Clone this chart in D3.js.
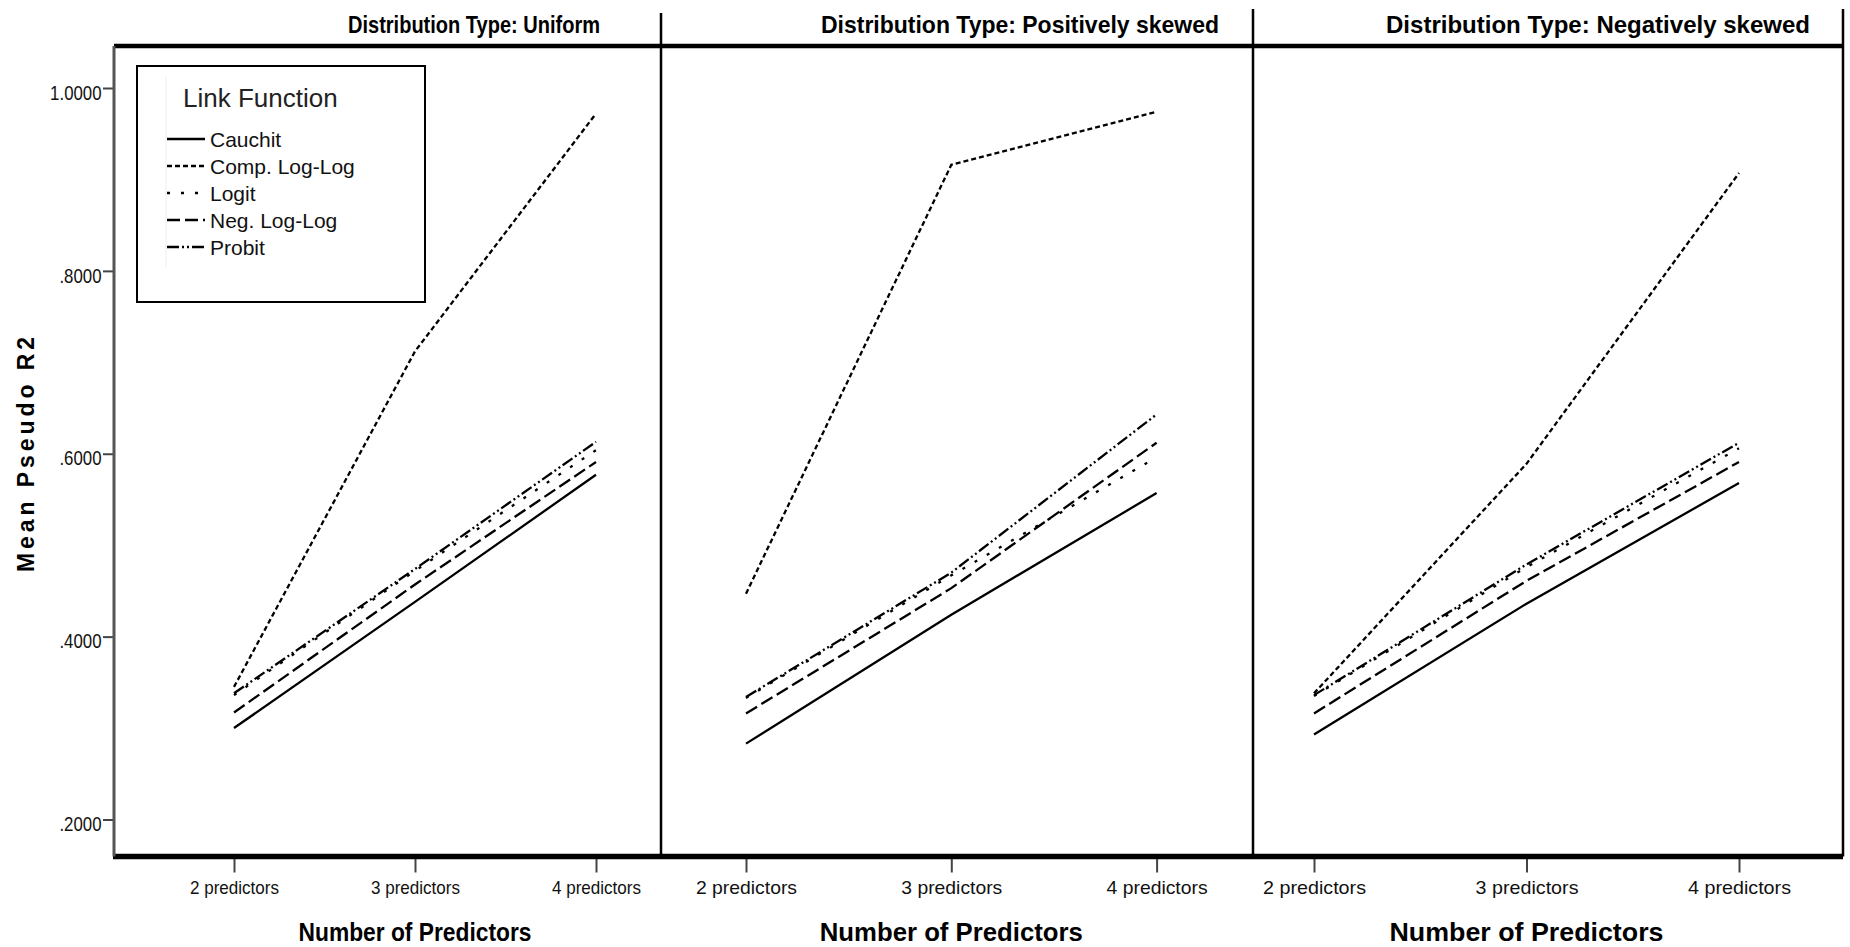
<!DOCTYPE html>
<html><head><meta charset="utf-8">
<script src="https://cdn.jsdelivr.net/npm/d3@7"></script>
<style>body{margin:0;background:#fff}svg{display:block}</style>
</head><body>
<svg id="chart" width="1850" height="947"></svg>
<script>
// ---- data ----
const categories = ["2 predictors", "3 predictors", "4 predictors"];
const distributions = ["Uniform", "Positively skewed", "Negatively skewed"];
const linkFunctions = ["Cauchit", "Comp. Log-Log", "Logit", "Neg. Log-Log", "Probit"];
// one row per distribution, values for 2/3/4 predictors
const cauchit    = [[0.300, 0.438, 0.577], [0.283, 0.424, 0.557], [0.293, 0.436, 0.568]];
const compLogLog = [[0.345, 0.712, 0.972], [0.447, 0.916, 0.974], [0.338, 0.589, 0.907]];
const logit      = [[0.336, 0.472, 0.604], [0.333, 0.467, 0.596], [0.335, 0.476, 0.606]];
const negLogLog  = [[0.317, 0.457, 0.591], [0.316, 0.453, 0.612], [0.316, 0.461, 0.591]];
const probit     = [[0.338, 0.474, 0.613], [0.334, 0.470, 0.643], [0.336, 0.479, 0.612]];
const yTicks = [0.2, 0.4, 0.6, 0.8, 1.0];
const yTitle = "Mean Pseudo R2";
const xTitle = "Number of Predictors";
const legendTitle = "Link Function";

const seriesValues = {
  "Cauchit": cauchit, "Comp. Log-Log": compLogLog, "Logit": logit,
  "Neg. Log-Log": negLogLog, "Probit": probit
};

// ---- styles / layout ----
const dashes = {
  "Cauchit": null, "Comp. Log-Log": "5,3", "Logit": "3,11",
  "Neg. Log-Log": "13,5", "Probit": "12,3,2,3,2,3"
};
const FONT = "'Liberation Sans', Arial, Helvetica, sans-serif";
const frame = { left: 114, right: 1843, top: 46, bottom: 856.5 };
const panels = [
  { left: 114,  right: 661,  first: 234,  last: 596,   titleX: [348, 600],   xTitleW: 233, tickW: 89 },
  { left: 661,  right: 1253, first: 746,  last: 1156.6, titleX: [821, 1219], xTitleW: 263, tickW: 101 },
  { left: 1253, right: 1843, first: 1314, last: 1739,  titleX: [1386, 1810], xTitleW: 274, tickW: 103 }
];

const svg = d3.select("#chart");
const y = d3.scaleLinear().domain([0.2, 1.0]).range([819.5, 88]);
const fmt = v => d3.format(".4f")(v).replace(/^0/, "");

// ---- panels ----
panels.forEach((p, i) => {
  const x = d3.scalePoint().domain(categories).range([p.first, p.last]);
  const g = svg.append("g");

  // lines
  const line = d3.line().x((d, j) => x(categories[j])).y(d => y(d));
  linkFunctions.forEach(lf => {
    g.append("path")
      .datum(seriesValues[lf][i])
      .attr("d", line)
      .attr("fill", "none")
      .attr("stroke", "#000")
      .attr("stroke-width", 2.3)
      .attr("stroke-dasharray", dashes[lf]);
  });

  // x axis
  const ax = svg.append("g")
    .attr("transform", `translate(0,${frame.bottom + 2})`)
    .call(d3.axisBottom(x).tickSize(14).tickPadding(8));
  ax.select(".domain").remove();
  ax.selectAll(".tick line").attr("stroke", "#444").attr("stroke-width", 2);
  ax.selectAll(".tick text")
    .attr("font-family", FONT).attr("font-size", 19).attr("fill", "#111")
    .attr("textLength", p.tickW).attr("lengthAdjust", "spacingAndGlyphs");

  // panel title
  svg.append("text")
    .attr("x", p.titleX[0]).attr("y", 33)
    .attr("font-family", FONT).attr("font-size", 24).attr("font-weight", "bold")
    .attr("textLength", p.titleX[1] - p.titleX[0]).attr("lengthAdjust", "spacingAndGlyphs")
    .text("Distribution Type: " + distributions[i]);

  // x title
  const cx = x(categories[1]);
  svg.append("text")
    .attr("x", cx - p.xTitleW / 2).attr("y", 941)
    .attr("font-family", FONT).attr("font-size", 25).attr("font-weight", "bold")
    .attr("textLength", p.xTitleW).attr("lengthAdjust", "spacingAndGlyphs")
    .text(xTitle);
});

// ---- frame lines ----
svg.append("line").attr("x1", frame.left).attr("x2", frame.right)
  .attr("y1", frame.top).attr("y2", frame.top).attr("stroke", "#000").attr("stroke-width", 4.5);
svg.append("line").attr("x1", frame.left - 1).attr("x2", frame.right)
  .attr("y1", frame.bottom).attr("y2", frame.bottom).attr("stroke", "#000").attr("stroke-width", 5.5);
[661, 1253, 1843].forEach((xx, k) => {
  svg.append("line").attr("x1", xx).attr("x2", xx)
    .attr("y1", k === 0 ? 13 : 9).attr("y2", frame.bottom)
    .attr("stroke", "#000").attr("stroke-width", 2.5);
});

// ---- y axis ----
const ay = svg.append("g")
  .attr("transform", `translate(${frame.left},0)`)
  .call(d3.axisLeft(y).tickValues(yTicks).tickFormat(fmt).tickSize(11).tickPadding(1.5));
ay.select(".domain").remove();
ay.selectAll(".tick line").attr("stroke", "#444").attr("stroke-width", 2);
ay.selectAll(".tick text")
  .attr("font-family", FONT).attr("font-size", 21).attr("fill", "#111")
  .attr("dy", "0.53em")
  .each(function () {
    const w = this.getComputedTextLength();
    d3.select(this).attr("textLength", w * 0.8).attr("lengthAdjust", "spacingAndGlyphs");
  });
svg.append("line").attr("x1", frame.left).attr("x2", frame.left)
  .attr("y1", frame.top).attr("y2", frame.bottom)
  .attr("stroke", "#555").attr("stroke-width", 3);

// y title
svg.append("text")
  .attr("transform", "translate(33.5,572) rotate(-90)")
  .attr("font-family", FONT).attr("font-size", 23).attr("font-weight", "bold")
  .attr("textLength", 235).attr("lengthAdjust", "spacing")
  .text(yTitle);

// ---- legend ----
const lg = svg.append("g");
lg.append("rect").attr("x", 137).attr("y", 66).attr("width", 288).attr("height", 236)
  .attr("fill", "#fff").attr("stroke", "#000").attr("stroke-width", 2);
lg.append("line").attr("x1", 166).attr("x2", 166).attr("y1", 77).attr("y2", 267)
  .attr("stroke", "#eee").attr("stroke-width", 1);
lg.append("text").attr("x", 183).attr("y", 107)
  .attr("font-family", FONT).attr("font-size", 26).attr("fill", "#222")
  .text(legendTitle);
linkFunctions.forEach((lf, k) => {
  const cy = 139 + k * 27;
  lg.append("line").attr("x1", 167).attr("x2", 205).attr("y1", cy).attr("y2", cy)
    .attr("stroke", "#000").attr("stroke-width", 2.3).attr("stroke-dasharray", dashes[lf]);
  lg.append("text").attr("x", 210).attr("y", cy + 7.5)
    .attr("font-family", FONT).attr("font-size", 21).attr("fill", "#111")
    .text(lf);
});
</script>
</body></html>
